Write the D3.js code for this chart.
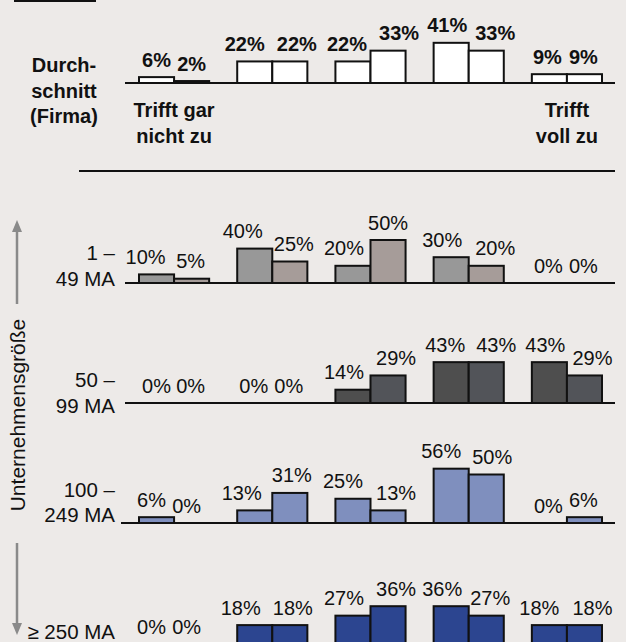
<!DOCTYPE html>
<html>
<head>
<meta charset="utf-8">
<script src="https://cdn.jsdelivr.net/npm/d3@7"></script>
<style>
  html, body { margin: 0; padding: 0; background: #EDEAE8; }
  svg { display: block; }
  text { font-family: "Liberation Sans", Arial, sans-serif; fill: #111; }
</style>
</head>
<body>
<script>
// Answer scale points (five groups per row, two bars each)
const categories = ["1", "2", "3", "4", "5"];
const seriesKeys = ["a", "b"];

// Row names
const rowNames = ["Durchschnitt (Firma)", "1 – 49 MA", "50 – 99 MA", "100 – 249 MA", "≥ 250 MA"];

// Percent values per row, first and second bar of each group
const avgA  = [6, 22, 22, 41, 9];
const avgB  = [2, 22, 33, 33, 9];
const r1A   = [10, 40, 20, 30, 0];
const r1B   = [5, 25, 50, 20, 0];
const r2A   = [0, 0, 14, 43, 43];
const r2B   = [0, 0, 29, 43, 29];
const r3A   = [6, 13, 25, 56, 0];
const r3B   = [0, 31, 13, 50, 6];
const r4A   = [0, 18, 27, 36, 18];
const r4B   = [0, 18, 36, 27, 18];

// Scale end labels
const lowLabel  = ["Trifft gar", "nicht zu"];
const highLabel = ["Trifft", "voll zu"];
const axisTitle = "Unternehmensgröße";

const W = 626, H = 642;
const svg = d3.select("body").append("svg").attr("width", W).attr("height", H);

// Row layout: baseline y, pixel height of 100 %, colours, label style,
// and horizontal nudges that keep neighbouring value labels apart
const rows = [
  { a: avgA, b: avgB, base: 83,  h: 98,  fill: ["#FFFFFF", "#FFFFFF"], bold: true,
    nudge: [0, 0, -10, 7, -6, 11, -4, 9, -2, -1],
    label: [], labelDy: [] },
  { a: r1A, b: r1B, base: 283, h: 86,  fill: ["#989898", "#A69C99"], bold: false,
    nudge: [-11, -1, -12, 4, -9, 0, -9, 9, -1, -1],
    label: ["1 –", "49 MA"], labelDy: [-23, 3] },
  { a: r2A, b: r2B, base: 403, h: 95,  fill: ["#4E4E4E", "#525459"], bold: false,
    nudge: [0, -1, -1, -1, -9, 8, -6, 10, -4, 8],
    label: ["50 –", "99 MA"], labelDy: [-16, 10] },
  { a: r3A, b: r3B, base: 523, h: 97,  fill: ["#7F8FBE", "#7F8FBE"], bold: false,
    nudge: [-5, -5, -13, 2, -10, 8, -10, 6, -1, -1],
    label: ["100 –", "249 MA"], labelDy: [-26, -1] },
  { a: r4A, b: r4B, base: 644, h: 105, fill: ["#2C4590", "#2C4590"], bold: false,
    nudge: [-5, -5, -14, 3, -9, 8, -9, 4, -10, 8],
    label: ["≥ 250 MA"], labelDy: [-5] }
];

const x = d3.scaleBand().domain(categories).range([139, 602]).paddingInner(28 / 98).paddingOuter(0);
const xs = d3.scaleBand().domain(seriesKeys).range([0, x.bandwidth()]).padding(0);

rows.forEach((row, ri) => {
  const y = d3.scaleLinear().domain([0, 100]).range([row.base, row.base - row.h]);
  const g = svg.append("g").attr("class", "row").attr("data-name", rowNames[ri]);

  const data = [];
  categories.forEach((c, i) => {
    data.push({ cat: c, key: "a", v: row.a[i], n: row.nudge[2 * i] });
    data.push({ cat: c, key: "b", v: row.b[i], n: row.nudge[2 * i + 1] });
  });

  // bars (zero values leave no bar)
  g.selectAll("rect.bar").data(data.filter(d => d.v > 0)).join("rect")
    .attr("class", "bar")
    .attr("x", d => x(d.cat) + xs(d.key))
    .attr("y", d => y(d.v))
    .attr("width", xs.bandwidth())
    .attr("height", d => y(0) - y(d.v))
    .attr("fill", d => row.fill[d.key === "a" ? 0 : 1])
    .attr("stroke", "#111")
    .attr("stroke-width", 2);

  // value labels
  g.selectAll("text.val").data(data).join("text")
    .attr("class", "val")
    .attr("x", d => x(d.cat) + xs(d.key) + xs.bandwidth() / 2 + d.n)
    .attr("y", d => y(d.v) - 10.5)
    .attr("text-anchor", "middle")
    .attr("font-size", 20)
    .attr("font-weight", row.bold ? "bold" : "normal")
    .text(d => d.v + "%");

  // baseline
  g.append("line")
    .attr("x1", ri === 3 ? 121 : 125).attr("x2", 615)
    .attr("y1", row.base).attr("y2", row.base)
    .attr("stroke", "#111").attr("stroke-width", 2.2);

  // row label
  row.label.forEach((t, k) => {
    g.append("text")
      .attr("x", 115).attr("y", row.base + row.labelDy[k])
      .attr("text-anchor", "end")
      .attr("font-size", 20.5)
      .text(t);
  });
});

// Average row caption
["Durch-", "schnitt", "(Firma)"].forEach((t, k) => {
  svg.append("text").attr("x", 64).attr("y", 72 + k * 25.5)
    .attr("text-anchor", "middle").attr("font-size", 20).attr("font-weight", "bold").text(t);
});

// Scale end captions
const endCaption = (lines, cat) => {
  lines.forEach((t, k) => {
    svg.append("text").attr("x", x(cat) + x.bandwidth() / 2).attr("y", 117 + k * 25.5)
      .attr("text-anchor", "middle").attr("font-size", 20).attr("font-weight", "bold").text(t);
  });
};
endCaption(lowLabel, categories[0]);
endCaption(highLabel, categories[categories.length - 1]);

// Separator below the average row
svg.append("line").attr("x1", 79).attr("x2", 615).attr("y1", 171).attr("y2", 171)
  .attr("stroke", "#111").attr("stroke-width", 2.2);

// Box edge at the top left
svg.append("line").attr("x1", 14).attr("x2", 96).attr("y1", 1).attr("y2", 1)
  .attr("stroke", "#111").attr("stroke-width", 2);

// Vertical axis title with arrows
svg.append("text")
  .attr("transform", "translate(25,415) rotate(-90)")
  .attr("text-anchor", "middle").attr("font-size", 21)
  .text(axisTitle);

const arrowCol = "#8A8A8A";
svg.append("line").attr("x1", 17).attr("x2", 17).attr("y1", 304).attr("y2", 230)
  .attr("stroke", arrowCol).attr("stroke-width", 2.5);
svg.append("path").attr("d", "M17,220 L12,232 L22,232 Z").attr("fill", arrowCol);
svg.append("line").attr("x1", 17).attr("x2", 17).attr("y1", 543).attr("y2", 624)
  .attr("stroke", arrowCol).attr("stroke-width", 2.5);
svg.append("path").attr("d", "M17,635 L12,623 L22,623 Z").attr("fill", arrowCol);
</script>
</body>
</html>
